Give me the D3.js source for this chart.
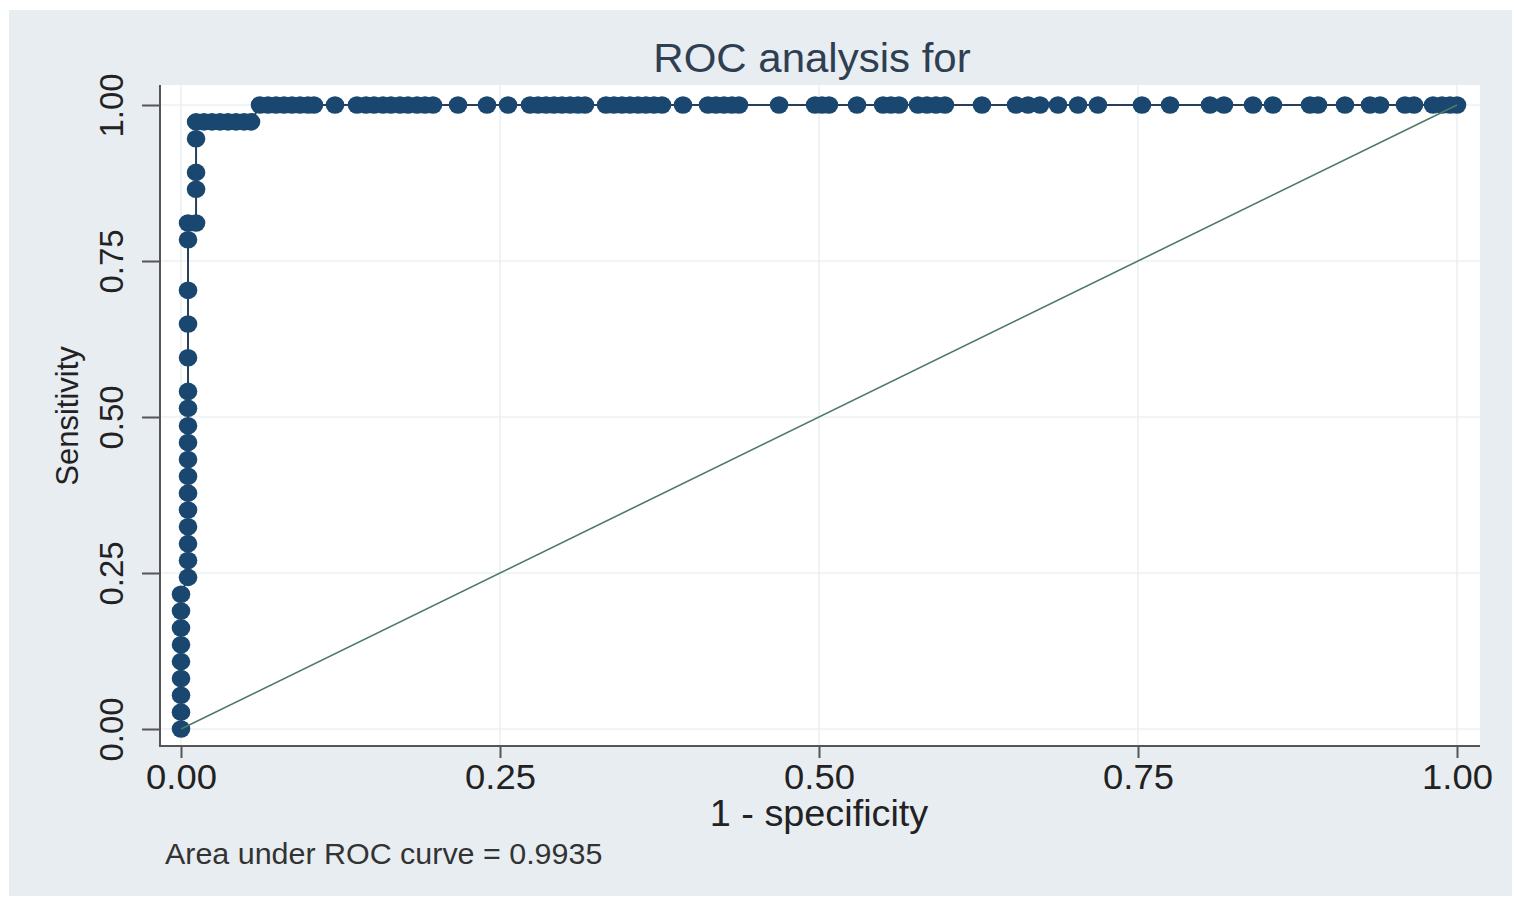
<!DOCTYPE html>
<html>
<head>
<meta charset="utf-8">
<script src="https://cdn.jsdelivr.net/npm/d3@7"></script>
<style>
  body { margin: 0; background: #fff; }
  svg { display: block; font-family: "Liberation Sans", Arial, sans-serif; }
</style>
</head>
<body>
<div class="chart"></div>
<script>
// ROC points
// column at 1-specificity = 0
const sensCol0 = [0, 0.027, 0.054, 0.081, 0.108, 0.135, 0.162, 0.189, 0.216];
// column at 1-specificity ~ 0.0055
const sensCol1 = [0.243, 0.270, 0.297, 0.324, 0.351, 0.378, 0.405, 0.432, 0.459,
                  0.486, 0.514, 0.541, 0.595, 0.649, 0.703, 0.784, 0.811];
// column at 1-specificity ~ 0.0118
const sensCol2 = [0.811, 0.865, 0.892, 0.946, 0.973];
const colX = [0, 0.0055, 0.0118];
// shoulder row at sensitivity 0.973
const shoulderX = [0.018, 0.0243, 0.0306, 0.0368, 0.0431, 0.0494, 0.0549];
const shoulderY = 0.973;
// top row at sensitivity 1
const topX = [0.0619, 0.0682, 0.0745, 0.0807, 0.087, 0.0933, 0.0995, 0.1042,
  0.1207,
  0.1379, 0.145, 0.1513, 0.1583, 0.1646, 0.1716, 0.1779, 0.185, 0.1912, 0.1975,
  0.2171, 0.2398, 0.2563,
  0.2735, 0.2798, 0.2861, 0.2923, 0.2986, 0.3049, 0.3111, 0.3166,
  0.3331, 0.3393, 0.3456, 0.3519, 0.3582, 0.3644, 0.3707, 0.377,
  0.3934,
  0.413, 0.4193, 0.4255, 0.4318, 0.4373,
  0.4687,
  0.4969, 0.5024, 0.5078,
  0.5298,
  0.5502, 0.5564, 0.5627,
  0.5776, 0.5846, 0.5917, 0.5987,
  0.6277,
  0.6544, 0.6638, 0.6732, 0.6873, 0.703, 0.7186,
  0.7531, 0.7751, 0.8064, 0.8174, 0.8401, 0.8558, 0.8848, 0.8911, 0.9122,
  0.9318, 0.9397, 0.9592, 0.9663, 0.9812, 0.9882, 0.9945, 1.0];

const ticks = [0, 0.25, 0.5, 0.75, 1];
const titleText = "ROC analysis for";
const xTitle = "1 - specificity";
const yTitle = "Sensitivity";
const noteText = "Area under ROC curve = 0.9935";

// build the point table
const points = [];
sensCol0.forEach(s => points.push([colX[0], s]));
sensCol1.forEach(s => points.push([colX[1], s]));
sensCol2.forEach(s => points.push([colX[2], s]));
shoulderX.forEach(f => points.push([f, shoulderY]));
topX.forEach(f => points.push([f, 1]));

const W = 1514, H = 899;
const plot = {left: 160, right: 1480, top: 85, bottom: 746};

const x = d3.scaleLinear().domain([0, 1]).range([181, 1457]);
const y = d3.scaleLinear().domain([0, 1]).range([729, 105]);

const svg = d3.select(".chart").append("svg")
  .attr("width", W).attr("height", H);

// outer region
svg.append("rect").attr("x", 9).attr("y", 10)
  .attr("width", 1503).attr("height", 886).attr("fill", "#e8edf2");
svg.append("rect").attr("x", plot.left).attr("y", plot.top)
  .attr("width", plot.right - plot.left).attr("height", plot.bottom - plot.top)
  .attr("fill", "#ffffff");

// grid
const grid = svg.append("g").attr("stroke", "#e6ebf0").attr("stroke-width", 1.2);
grid.selectAll(".vg").data(ticks).enter().append("line")
  .attr("x1", d => x(d)).attr("x2", d => x(d))
  .attr("y1", plot.top).attr("y2", plot.bottom);
grid.selectAll(".hg").data(ticks).enter().append("line")
  .attr("y1", d => y(d)).attr("y2", d => y(d))
  .attr("x1", plot.left).attr("x2", plot.right);

// axes
const xAxis = svg.append("g")
  .attr("transform", "translate(0," + plot.bottom + ")")
  .call(d3.axisBottom(x).tickValues(ticks).tickFormat(d3.format(".2f"))
    .tickSize(12).tickPadding(8));
xAxis.select(".domain").remove();
xAxis.selectAll("line").attr("stroke", "#555").attr("stroke-width", 2);
xAxis.selectAll("text").attr("font-size", 35).attr("fill", "#222")
  .attr("font-family", "Liberation Sans, Arial, sans-serif")
  .attr("dy", 0).attr("y", 43)
  .attr("transform", "scale(1.04,1)");

const yAxis = svg.append("g")
  .attr("transform", "translate(" + plot.left + ",0)")
  .call(d3.axisLeft(y).tickValues(ticks).tickFormat(d3.format(".2f")).tickSize(18));
yAxis.select(".domain").remove();
yAxis.selectAll("line").attr("stroke", "#555").attr("stroke-width", 2);
yAxis.selectAll("text").attr("font-size", 33).attr("fill", "#222")
  .attr("font-family", "Liberation Sans, Arial, sans-serif")
  .attr("text-anchor", "middle").attr("x", 0).attr("y", -37).attr("dy", 0)
  .attr("transform", "rotate(-90)");

svg.append("line").attr("x1", plot.left).attr("x2", plot.left)
  .attr("y1", plot.top).attr("y2", plot.bottom + 1)
  .attr("stroke", "#555").attr("stroke-width", 2);
svg.append("line").attr("x1", plot.left - 1).attr("x2", plot.right)
  .attr("y1", plot.bottom).attr("y2", plot.bottom)
  .attr("stroke", "#555").attr("stroke-width", 2);

// curve
const line = d3.line().x(d => x(d[0])).y(d => y(d[1]));
svg.append("path").datum(points).attr("d", line)
  .attr("fill", "none").attr("stroke", "#27405a").attr("stroke-width", 2);
svg.append("g").selectAll("ellipse").data(points).enter().append("ellipse")
  .attr("cx", d => x(d[0])).attr("cy", d => y(d[1]))
  .attr("rx", 9.3).attr("ry", 8.8)
  .attr("fill", "#1a476f");

// reference line
svg.append("path").datum([[0, 0], [1, 1]]).attr("d", line)
  .attr("stroke", "#4f7a68").attr("stroke-width", 1.6).attr("fill", "none");

// texts (slightly widened, like the reference)
function wideText(tx, ty, size, fill, anchor, str, sx) {
  svg.append("text")
    .attr("transform", "translate(" + tx + "," + ty + ") scale(" + sx + ",1)")
    .attr("text-anchor", anchor).attr("font-size", size).attr("fill", fill).text(str);
}
wideText(812, 72, 40, "#2f3f52", "middle", titleText, 1.05);
wideText(819, 826, 36, "#222", "middle", xTitle, 1.05);
wideText(165, 864, 29, "#333", "start", noteText, 1.05);
svg.append("text").attr("transform", "translate(78,416) rotate(-90)")
  .attr("text-anchor", "middle").attr("font-size", 31).attr("fill", "#222").text(yTitle);
</script>
</body>
</html>
